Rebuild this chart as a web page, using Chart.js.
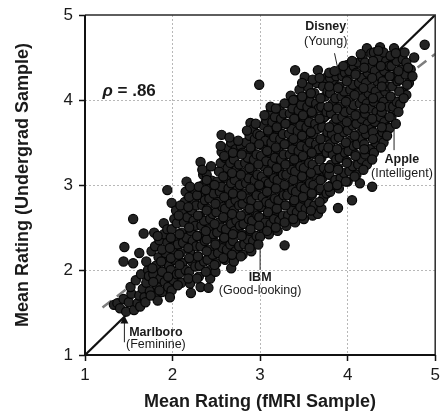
<!DOCTYPE html>
<html lang="en">
<head>
  <meta charset="UTF-8">
  <title>Mean Rating: fMRI vs Undergrad Sample</title>
  <script src="https://cdn.jsdelivr.net/npm/chart.js"></script>
  <style>
    html, body { margin: 0; padding: 0; background: #fff; }
    #wrap { width: 441px; height: 415px; }
  </style>
</head>
<body>
  <div id="wrap"><canvas id="scatter" width="441" height="415"></canvas></div>

  <script>
    // axis ticks
    const tickValues = [1, 2, 3, 4, 5];

    // brand x trait ratings: [fMRI sample, undergrad sample]
    const brandPoints = [
      [1.33,1.59],[1.37,1.61],[1.40,1.55],[1.44,1.66],[1.47,1.51],[1.44,2.10],[1.45,2.27],
      [1.50,1.62],[1.53,1.72],[1.56,1.53],[1.55,2.60],[1.55,2.08],[1.52,1.80],
      [1.60,1.61],[1.62,1.70],[1.58,1.88],[1.62,2.20],[1.64,1.95],[1.66,1.78],[1.63,1.57],
      [1.68,1.68],[1.70,1.85],[1.72,2.00],[1.67,2.43],[1.69,1.62],[1.74,1.75],[1.73,1.93],[1.70,2.10],[1.76,2.22],
      [1.79,2.44],[1.80,1.70],[1.82,1.82],[1.78,1.95],[1.81,2.05],[1.84,2.15],[1.80,2.28],[1.85,2.35],[1.83,1.64],[1.86,1.90],
      [1.90,2.55],[1.88,1.74],[1.91,1.86],[1.93,1.98],[1.89,2.10],[1.92,2.20],[1.94,2.32],[1.90,2.42],[1.95,1.80],[1.96,2.05],[1.94,2.48],
      [1.94,2.94],[1.99,2.79],[1.99,1.76],[2.01,1.88],[1.98,2.00],[2.02,2.12],[2.00,2.24],[2.03,2.36],[1.99,2.48],[2.02,2.60],[2.04,2.70],[2.05,1.95],[2.06,2.30],[2.05,2.55],
      [2.10,1.85],[2.08,1.96],[2.11,2.08],[2.09,2.20],[2.12,2.32],[2.10,2.44],[2.13,2.56],[2.11,2.68],[2.14,2.80],[2.15,2.92],[2.16,3.04],[2.15,2.00],[2.16,2.38],[2.17,2.62],
      [2.21,1.73],[2.20,1.84],[2.19,1.98],[2.22,2.10],[2.20,2.22],[2.23,2.34],[2.21,2.46],[2.24,2.58],[2.22,2.70],[2.25,2.82],[2.23,2.94],[2.26,2.04],[2.27,2.28],[2.26,2.52],[2.27,2.76],
      [2.32,1.80],[2.30,1.92],[2.31,2.05],[2.29,2.16],[2.32,2.28],[2.30,2.40],[2.33,2.52],[2.31,2.64],[2.34,2.76],[2.32,2.88],[2.35,3.00],[2.32,3.27],[2.36,2.10],[2.37,2.34],[2.36,2.58],[2.37,2.82],[2.35,3.12],
      [2.41,1.79],[2.43,1.90],[2.43,2.00],[2.40,2.12],[2.42,2.24],[2.39,2.36],[2.41,2.48],[2.43,2.60],[2.40,2.72],[2.42,2.84],[2.44,2.96],[2.39,3.12],[2.46,2.18],[2.47,2.42],[2.46,2.66],[2.47,2.90],[2.45,3.05],
      [2.50,2.08],[2.52,2.20],[2.49,2.32],[2.51,2.44],[2.53,2.56],[2.50,2.68],[2.52,2.80],[2.54,2.92],[2.51,3.04],[2.53,3.16],[2.56,3.39],[2.56,3.59],[2.55,3.26],[2.57,2.26],[2.56,2.50],[2.57,2.74],[2.56,2.98],[2.49,1.98],
      [2.60,2.12],[2.62,2.24],[2.59,2.36],[2.61,2.48],[2.63,2.60],[2.60,2.72],[2.62,2.84],[2.64,2.96],[2.61,3.08],[2.63,3.20],[2.60,3.32],[2.64,3.44],[2.67,3.50],[2.66,2.30],[2.67,2.54],[2.66,2.78],[2.67,3.02],[2.66,3.26],
      [2.67,2.02],[2.70,2.10],[2.72,2.22],[2.69,2.34],[2.71,2.46],[2.73,2.58],[2.70,2.70],[2.72,2.82],[2.74,2.94],[2.71,3.06],[2.73,3.18],[2.70,3.30],[2.72,3.42],[2.76,2.28],[2.77,2.52],[2.76,2.76],[2.77,3.00],[2.76,3.24],[2.78,3.46],
      [2.80,2.18],[2.82,2.30],[2.79,2.42],[2.81,2.54],[2.83,2.66],[2.80,2.78],[2.82,2.90],[2.84,3.02],[2.81,3.14],[2.83,3.26],[2.80,3.38],[2.84,3.50],[2.89,3.73],[2.86,2.36],[2.87,2.60],[2.86,2.84],[2.87,3.08],[2.86,3.32],[2.88,3.58],
      [2.90,2.22],[2.92,2.34],[2.89,2.46],[2.91,2.58],[2.93,2.70],[2.90,2.82],[2.92,2.94],[2.94,3.06],[2.91,3.18],[2.93,3.30],[2.90,3.42],[2.94,3.54],[2.92,3.66],[2.96,2.40],[2.97,2.64],[2.96,2.88],[2.97,3.12],[2.96,3.36],[2.97,3.60],
      [3.00,2.39],[3.02,2.50],[2.99,2.62],[3.01,2.74],[3.03,2.86],[3.00,2.98],[3.02,3.10],[3.04,3.22],[3.01,3.34],[3.03,3.46],[3.00,3.58],[3.04,3.70],[2.99,4.18],[3.06,2.56],[3.07,2.80],[3.06,3.04],[3.07,3.28],[3.06,3.52],[3.07,3.76],
      [3.10,2.42],[3.12,2.54],[3.09,2.66],[3.11,2.78],[3.13,2.90],[3.10,3.02],[3.12,3.14],[3.14,3.26],[3.11,3.38],[3.13,3.50],[3.10,3.62],[3.14,3.74],[3.12,3.86],[3.12,3.92],[3.16,2.60],[3.17,2.84],[3.16,3.08],[3.17,3.32],[3.16,3.56],[3.17,3.80],
      [3.20,2.46],[3.22,2.58],[3.19,2.70],[3.21,2.82],[3.23,2.94],[3.20,3.06],[3.22,3.18],[3.24,3.30],[3.21,3.42],[3.23,3.54],[3.20,3.66],[3.24,3.78],[3.22,3.90],[3.26,2.64],[3.27,2.88],[3.26,3.12],[3.27,3.36],[3.26,3.60],[3.27,3.84],[3.28,2.29],
      [3.30,2.52],[3.32,2.64],[3.29,2.76],[3.31,2.88],[3.33,3.00],[3.30,3.12],[3.32,3.24],[3.34,3.36],[3.31,3.48],[3.33,3.60],[3.30,3.72],[3.34,3.84],[3.32,3.96],[3.36,2.70],[3.37,2.94],[3.36,3.18],[3.37,3.42],[3.36,3.66],[3.37,3.90],[3.35,4.05],
      [3.40,2.56],[3.42,2.68],[3.39,2.80],[3.41,2.92],[3.43,3.04],[3.40,3.16],[3.42,3.28],[3.44,3.40],[3.41,3.52],[3.43,3.64],[3.40,3.76],[3.44,3.88],[3.42,4.00],[3.40,4.35],[3.46,2.74],[3.47,2.98],[3.46,3.22],[3.47,3.46],[3.46,3.70],[3.47,3.94],[3.45,4.12],
      [3.50,2.60],[3.52,2.72],[3.49,2.84],[3.51,2.96],[3.53,3.08],[3.50,3.20],[3.52,3.32],[3.54,3.44],[3.51,3.56],[3.53,3.68],[3.50,3.80],[3.54,3.92],[3.52,4.04],[3.51,4.27],[3.56,2.78],[3.57,3.02],[3.56,3.26],[3.57,3.50],[3.56,3.74],[3.57,3.98],[3.55,4.15],
      [3.60,2.64],[3.62,2.76],[3.59,2.88],[3.61,3.00],[3.63,3.12],[3.60,3.24],[3.62,3.36],[3.64,3.48],[3.61,3.60],[3.63,3.72],[3.60,3.84],[3.64,3.96],[3.62,4.08],[3.66,4.35],[3.66,2.66],[3.67,2.94],[3.66,3.18],[3.67,3.42],[3.66,3.66],[3.67,3.90],[3.65,4.20],
      [3.70,2.72],[3.72,2.84],[3.69,2.96],[3.71,3.08],[3.73,3.20],[3.70,3.32],[3.72,3.44],[3.74,3.56],[3.71,3.68],[3.73,3.80],[3.70,3.92],[3.74,4.04],[3.72,4.16],[3.76,2.90],[3.77,3.14],[3.76,3.38],[3.77,3.62],[3.76,3.86],[3.77,4.10],[3.75,4.26],
      [3.80,2.92],[3.82,3.00],[3.79,3.12],[3.81,3.24],[3.83,3.36],[3.80,3.48],[3.82,3.60],[3.84,3.72],[3.81,3.84],[3.83,3.96],[3.80,4.08],[3.84,4.20],[3.80,4.26],[3.86,3.06],[3.87,3.30],[3.86,3.54],[3.87,3.78],[3.86,4.02],[3.87,4.28],[3.89,2.73],
      [3.90,2.96],[3.92,3.08],[3.89,3.20],[3.91,3.32],[3.93,3.44],[3.90,3.56],[3.92,3.68],[3.94,3.80],[3.91,3.92],[3.93,4.04],[3.90,4.16],[3.94,4.28],[3.92,4.36],[3.96,3.14],[3.97,3.38],[3.96,3.62],[3.97,3.86],[3.96,4.10],[3.97,4.32],
      [4.05,2.82],[4.00,3.04],[4.02,3.16],[3.99,3.28],[4.01,3.40],[4.03,3.52],[4.00,3.64],[4.02,3.76],[4.04,3.88],[4.01,4.00],[4.03,4.12],[4.00,4.24],[3.99,4.41],[4.02,4.34],[4.06,3.22],[4.07,3.46],[4.06,3.70],[4.07,3.94],[4.06,4.18],[4.07,4.40],
      [4.14,3.02],[4.10,3.12],[4.12,3.24],[4.09,3.36],[4.11,3.48],[4.13,3.60],[4.10,3.72],[4.12,3.84],[4.14,3.96],[4.11,4.08],[4.13,4.20],[4.10,4.32],[4.12,4.44],[4.16,3.30],[4.17,3.54],[4.16,3.78],[4.17,4.02],[4.16,4.26],[4.17,4.50],
      [4.22,3.24],[4.20,3.36],[4.19,3.48],[4.21,3.60],[4.23,3.72],[4.20,3.84],[4.22,3.96],[4.24,4.08],[4.21,4.20],[4.23,4.32],[4.20,4.44],[4.22,4.61],[4.28,2.98],[4.26,3.42],[4.27,3.66],[4.26,3.90],[4.27,4.14],[4.26,4.38],[4.27,4.55],
      [4.30,3.38],[4.32,3.50],[4.29,3.62],[4.31,3.74],[4.33,3.86],[4.30,3.98],[4.32,4.10],[4.34,4.22],[4.31,4.34],[4.33,4.46],[4.30,4.56],[4.37,4.62],[4.36,3.56],[4.37,3.80],[4.36,4.04],[4.37,4.28],[4.36,4.50],
      [4.41,3.50],[4.40,3.62],[4.42,3.74],[4.39,3.86],[4.41,3.98],[4.43,4.10],[4.40,4.22],[4.42,4.34],[4.44,4.46],[4.41,4.56],[4.46,3.68],[4.47,3.92],[4.46,4.16],[4.47,4.40],[4.48,3.67],
      [4.50,3.80],[4.52,3.92],[4.49,4.04],[4.51,4.16],[4.53,4.28],[4.50,4.40],[4.53,4.61],[4.52,4.50],[4.56,3.98],[4.57,4.22],[4.56,4.46],[4.55,3.72],
      [4.60,3.95],[4.62,4.10],[4.59,4.24],[4.61,4.36],[4.63,4.48],[4.65,4.56],[4.67,4.06],[4.66,4.30],[4.67,4.44],
      [4.70,4.20],[4.72,4.36],[4.76,4.50],[4.74,4.28],[4.88,4.65],
      // inner core of the cloud
      [1.75,1.70],[1.78,1.86],[1.77,2.02],
      [1.85,1.76],[1.88,1.98],[1.87,2.10],[1.88,2.24],[1.83,2.40],
      [1.95,1.92],[1.98,2.14],[1.97,2.26],[1.98,2.38],[1.97,1.68],
      [2.06,1.82],[2.08,2.06],[2.07,2.18],[2.08,2.42],[2.07,2.64],[2.09,2.76],
      [2.18,1.90],[2.19,2.14],[2.18,2.26],[2.19,2.50],[2.18,2.74],[2.19,2.86],[2.20,2.98],
      [2.28,1.90],[2.29,2.16],[2.28,2.40],[2.29,2.64],[2.28,2.88],[2.30,2.98],
      [2.38,1.98],[2.39,2.22],[2.38,2.46],[2.39,2.70],[2.38,2.94],[2.39,3.06],[2.34,3.18],
      [2.48,2.06],[2.49,2.30],[2.48,2.54],[2.49,2.78],[2.48,3.00],[2.44,3.22],
      [2.58,2.14],[2.59,2.38],[2.58,2.62],[2.59,2.86],[2.58,3.10],[2.59,3.34],[2.55,3.46],
      [2.68,2.18],[2.69,2.42],[2.68,2.66],[2.69,2.90],[2.68,3.14],[2.69,3.38],[2.65,3.56],
      [2.78,2.16],[2.79,2.40],[2.78,2.64],[2.79,2.88],[2.78,3.12],[2.79,3.36],[2.75,3.52],
      [2.88,2.26],[2.89,2.48],[2.88,2.72],[2.89,2.96],[2.88,3.20],[2.89,3.44],[2.85,3.64],
      [2.98,2.30],[2.99,2.52],[2.98,2.76],[2.99,3.00],[2.98,3.24],[2.99,3.48],[2.95,3.72],
      [3.08,2.46],[3.09,2.68],[3.08,2.92],[3.09,3.16],[3.08,3.40],[3.09,3.64],[3.05,3.82],
      [3.18,2.50],[3.19,2.72],[3.18,2.96],[3.19,3.20],[3.18,3.44],[3.19,3.68],[3.18,3.90],
      [3.28,2.56],[3.29,2.76],[3.28,3.00],[3.29,3.24],[3.28,3.48],[3.29,3.72],[3.28,3.96],
      [3.38,2.60],[3.39,2.82],[3.38,3.06],[3.39,3.30],[3.38,3.54],[3.39,3.78],[3.38,4.00],
      [3.48,2.64],[3.49,2.86],[3.48,3.10],[3.49,3.34],[3.48,3.58],[3.49,3.82],[3.48,4.04],[3.48,4.20],
      [3.58,2.70],[3.59,2.90],[3.58,3.14],[3.59,3.38],[3.58,3.62],[3.59,3.86],[3.58,4.08],[3.60,4.24],
      [3.68,2.80],[3.69,3.06],[3.68,3.30],[3.69,3.54],[3.68,3.78],[3.69,4.02],[3.68,4.26],
      [3.78,2.98],[3.79,3.20],[3.78,3.44],[3.79,3.68],[3.78,3.92],[3.79,4.16],[3.79,4.32],
      [3.88,3.00],[3.89,3.18],[3.88,3.42],[3.89,3.66],[3.88,3.90],[3.89,4.14],[3.85,4.34],
      [3.98,3.04],[3.99,3.26],[3.98,3.50],[3.99,3.74],[3.98,3.98],[3.99,4.22],[3.95,4.40],
      [4.08,3.10],[4.09,3.34],[4.08,3.58],[4.09,3.82],[4.08,4.06],[4.09,4.30],[4.05,4.46],
      [4.18,3.18],[4.19,3.42],[4.18,3.66],[4.19,3.90],[4.18,4.14],[4.19,4.38],[4.15,4.54],
      [4.28,3.30],[4.29,3.54],[4.28,3.78],[4.29,4.02],[4.28,4.26],[4.29,4.46],
      [4.38,3.44],[4.39,3.68],[4.38,3.92],[4.39,4.16],[4.38,4.40],[4.35,4.58],
      [4.48,3.80],[4.49,4.04],[4.48,4.28],[4.49,4.52],[4.45,3.58],
      [4.58,3.86],[4.59,4.10],[4.58,4.34],[4.55,4.55],
      [4.68,4.18],[4.69,4.38],[4.64,4.02]
    ];

    // reference lines
    const identityLine = [[1, 1], [5, 5]];
    const fitLine = [[1.2, 1.56], [5, 4.54]];

    // correlation label (data coords of the left baseline)
    const rhoText = { x: 1.2, y: 4.05, symbol: 'ρ', rest: ' = .86' };

    // brand callouts: label centre / baselines + leader line
    const callouts = [
      { name: 'Disney',   trait: '(Young)',        x: 3.75, nameY: 4.82, traitY: 4.65, from: [3.85, 4.55], to: [3.90, 4.31], arrow: false },
      { name: 'Apple',    trait: '(Intelligent)',  x: 4.62, nameY: 3.26, traitY: 3.09, from: [4.53, 3.41], to: [4.53, 3.80], arrow: false },
      { name: 'IBM',      trait: '(Good-looking)', x: 3.00, nameY: 1.87, traitY: 1.72, from: [3.00, 2.00], to: [3.00, 2.39], arrow: false },
      { name: 'Marlboro', trait: '(Feminine)',     x: 1.81, nameY: 1.22, traitY: 1.08, from: [1.45, 1.15], to: [1.45, 1.44], arrow: true }
    ];

    const FONT = '"Liberation Sans", Arial, Helvetica, sans-serif';

    const annotate = {
      id: 'annotate',
      afterDraw(chart) {
        const { ctx, chartArea: a } = chart;
        const sx = chart.scales.x, sy = chart.scales.y;
        const px = v => sx.getPixelForValue(v);
        const py = v => sy.getPixelForValue(v);
        ctx.save();

        // frame
        ctx.strokeStyle = '#2a2a2a';
        ctx.lineWidth = 1.5;
        ctx.beginPath();
        ctx.moveTo(a.left, a.top); ctx.lineTo(a.right, a.top); ctx.lineTo(a.right, a.bottom);
        ctx.stroke();
        ctx.strokeStyle = '#111';
        ctx.lineWidth = 2;
        ctx.beginPath();
        ctx.moveTo(a.left, a.top); ctx.lineTo(a.left, a.bottom); ctx.lineTo(a.right, a.bottom);
        ctx.stroke();

        // rho
        ctx.fillStyle = '#1a1a1a';
        ctx.textBaseline = 'alphabetic';
        ctx.textAlign = 'left';
        ctx.font = 'italic bold 17px ' + FONT;
        const rx = px(rhoText.x), ry = py(rhoText.y);
        ctx.fillText(rhoText.symbol, rx, ry);
        const w = ctx.measureText(rhoText.symbol).width;
        ctx.font = 'bold 17px ' + FONT;
        ctx.fillText(rhoText.rest, rx + w, ry);

        // callouts
        callouts.forEach(c => {
          ctx.strokeStyle = '#222';
          ctx.lineWidth = 1;
          ctx.beginPath();
          ctx.moveTo(px(c.from[0]), py(c.from[1]));
          ctx.lineTo(px(c.to[0]), py(c.to[1]));
          ctx.stroke();
          if (c.arrow) {
            const tx = px(c.to[0]), ty = py(c.to[1]);
            ctx.beginPath();
            ctx.moveTo(tx, ty - 2);
            ctx.lineTo(tx - 4, ty + 6);
            ctx.lineTo(tx + 4, ty + 6);
            ctx.closePath();
            ctx.fillStyle = '#111';
            ctx.fill();
          }
          ctx.fillStyle = '#1a1a1a';
          ctx.textAlign = 'center';
          ctx.font = 'bold 12.5px ' + FONT;
          ctx.fillText(c.name, px(c.x), py(c.nameY));
          ctx.font = '12.5px ' + FONT;
          ctx.fillText(c.trait, px(c.x), py(c.traitY));
        });
        ctx.restore();
      }
    };

    const toXY = pairs => pairs.map(([x, y]) => ({ x, y }));
    const edgeTick = v => v === tickValues[0] || v === tickValues[tickValues.length - 1];

    const axis = (title, isY) => ({
      type: 'linear',
      min: tickValues[0],
      max: tickValues[tickValues.length - 1],
      afterBuildTicks: s => { s.ticks = tickValues.map(v => ({ value: v })); },
      afterFit: s => {
        if (isY) { s.width = 85; s.paddingTop = 0; s.paddingBottom = 0; }
        else { s.height = 60; s.paddingLeft = 0; s.paddingRight = 0; }
      },
      ticks: {
        color: '#1a1a1a',
        font: { family: FONT, size: 17 },
        padding: isY ? 6 : 4
      },
      grid: {
        color: c => (c.tick && edgeTick(c.tick.value)) ? 'rgba(0,0,0,0)' : '#b8b8b8',
        lineWidth: 1,
        tickLength: 6,
        tickColor: '#111',
        tickWidth: 1.5,
        tickBorderDash: [1, 0]
      },
      border: { display: false, dash: [2, 2] },
      title: {
        display: true,
        text: title,
        color: '#1a1a1a',
        font: { family: FONT, size: 18, weight: 'bold' },
        padding: isY ? { top: 12, bottom: 0 } : { top: 0, bottom: 2 }
      }
    });

    new Chart(document.getElementById('scatter'), {
      type: 'scatter',
      data: {
        datasets: [
          {
            type: 'line',
            data: toXY(fitLine),
            borderColor: '#7d7d7d',
            borderWidth: 2.5,
            borderDash: [11, 7],
            pointRadius: 0,
            order: 2
          },
          {
            type: 'line',
            data: toXY(identityLine),
            borderColor: '#111',
            borderWidth: 2.2,
            pointRadius: 0,
            order: 2
          },
          {
            data: toXY(brandPoints),
            backgroundColor: '#242424',
            borderColor: '#050505',
            borderWidth: 1.2,
            pointRadius: 4.6,
            order: 1
          }
        ]
      },
      options: {
        responsive: false,
        animation: false,
        devicePixelRatio: 1,
        layout: { padding: { top: 15, right: 1, left: 0, bottom: 0 } },
        plugins: { legend: { display: false }, tooltip: { enabled: false } },
        scales: {
          x: axis('Mean Rating (fMRI Sample)', false),
          y: axis('Mean Rating (Undergrad Sample)', true)
        }
      },
      plugins: [annotate]
    });
  </script>
</body>
</html>
